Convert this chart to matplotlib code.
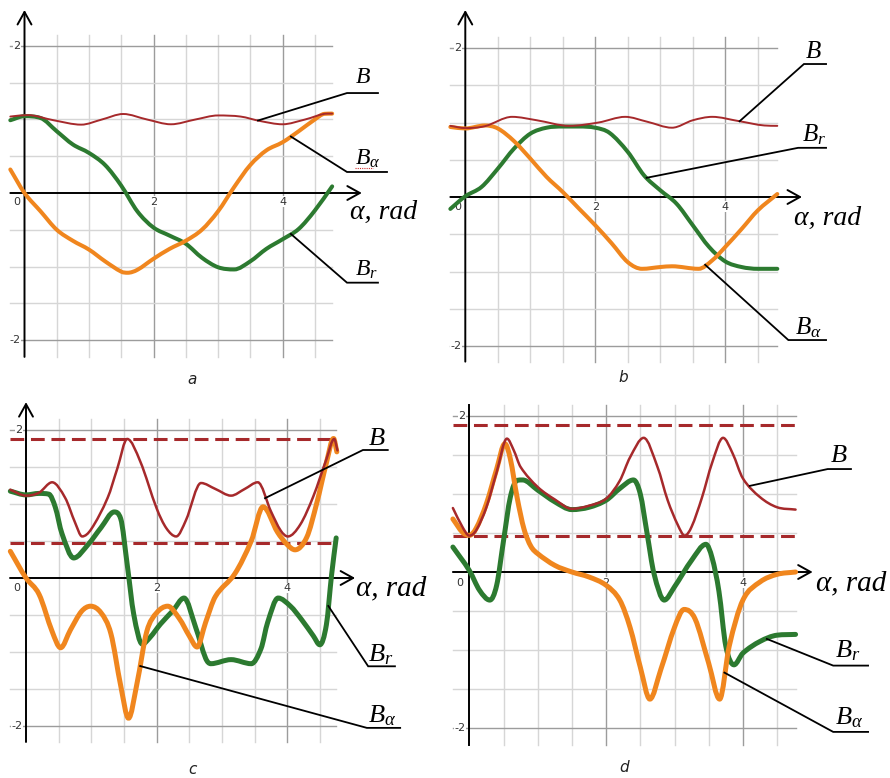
import numpy as np
import matplotlib
matplotlib.use("Agg")
import matplotlib.pyplot as plt
from matplotlib.path import Path
from matplotlib.patches import PathPatch

plt.rcParams["mathtext.fontset"] = "custom"
plt.rcParams["mathtext.it"] = "Liberation Serif:italic"
plt.rcParams["mathtext.rm"] = "Liberation Serif"

RED = "#a6292b"
GREEN = "#2c7a30"
ORANGE = "#f0861e"

# --- panel a ---
a_B_x = [-0.22, 0.05, 0.45, 0.88, 1.2, 1.53, 1.9, 2.27, 2.65, 3.0, 3.35, 3.65, 4.0, 4.35, 4.7, 4.77]
a_B = [1.04, 1.06, 0.99, 0.93, 1.0, 1.075, 1.0, 0.935, 1.0, 1.055, 1.04, 0.98, 0.935, 1.0, 1.08, 1.08]
a_Br_x = [-0.22, 0, 0.25, 0.5, 0.75, 1.0, 1.25, 1.5, 1.75, 2.0, 2.25, 2.5, 2.75, 3.0, 3.25, 3.5, 3.75, 4.0, 4.25, 4.5, 4.77]
a_Br = [0.99, 1.045, 1.02, 0.84, 0.66, 0.545, 0.38, 0.1, -0.25, -0.47, -0.58, -0.69, -0.88, -1.01, -1.04, -0.93, -0.76, -0.63, -0.49, -0.24, 0.09]
a_Ba_x = [-0.22, 0, 0.25, 0.5, 0.75, 1.0, 1.25, 1.5, 1.6, 1.75, 2.0, 2.25, 2.5, 2.75, 3.0, 3.25, 3.5, 3.75, 4.0, 4.25, 4.5, 4.65, 4.77]
a_Ba = [0.32, 0.0, -0.25, -0.5, -0.65, -0.77, -0.93, -1.07, -1.085, -1.045, -0.895, -0.76, -0.65, -0.5, -0.25, 0.08, 0.38, 0.58, 0.69, 0.84, 1.0, 1.077, 1.08]

# --- panel b ---
b_B_x = [-0.23, 0.0, 0.3, 0.72, 1.1, 1.6, 2.05, 2.46, 2.8, 3.18, 3.5, 3.8, 4.2, 4.6, 4.8]
b_B = [0.955, 0.925, 0.95, 1.076, 1.03, 0.955, 1.0, 1.076, 1.01, 0.93, 1.03, 1.076, 1.02, 0.96, 0.955]
b_Br_x = [-0.23, 0, 0.25, 0.5, 0.75, 1.0, 1.25, 1.5, 1.75, 2.0, 2.22, 2.5, 2.75, 3.0, 3.25, 3.5, 3.75, 4.0, 4.25, 4.5, 4.8]
b_Br = [-0.16, 0.01, 0.135, 0.38, 0.65, 0.85, 0.93, 0.946, 0.946, 0.93, 0.86, 0.605, 0.29, 0.09, -0.09, -0.38, -0.67, -0.865, -0.94, -0.964, -0.964]
b_Ba_x = [-0.23, 0, 0.3, 0.5, 0.75, 1.0, 1.25, 1.5, 1.75, 2.0, 2.25, 2.5, 2.72, 3.0, 3.18, 3.59, 3.8, 4.0, 4.25, 4.5, 4.8]
b_Ba = [0.94, 0.92, 0.96, 0.92, 0.75, 0.516, 0.27, 0.067, -0.157, -0.38, -0.62, -0.875, -0.964, -0.94, -0.93, -0.964, -0.85, -0.67, -0.43, -0.18, 0.04]

# --- panel c ---
c_B_x = [-0.24, 0, 0.2, 0.4, 0.6, 0.75, 0.86, 1.0, 1.25, 1.4, 1.55, 1.75, 2.0, 2.15, 2.3, 2.45, 2.68, 2.9, 3.14, 3.35, 3.55, 3.75, 3.9, 4.01, 4.2, 4.4, 4.6, 4.72, 4.77]
c_B = [1.19, 1.11, 1.15, 1.29, 1.08, 0.75, 0.56, 0.66, 1.08, 1.48, 1.874, 1.57, 0.94, 0.67, 0.56, 0.78, 1.28, 1.2, 1.11, 1.2, 1.29, 0.9, 0.64, 0.56, 0.72, 1.1, 1.6, 1.874, 1.72]
c_Br_x = [-0.24, 0, 0.2, 0.35, 0.45, 0.55, 0.73, 0.95, 1.15, 1.35, 1.45, 1.55, 1.65, 1.78, 1.9, 2.06, 2.25, 2.42, 2.6, 2.75, 2.83, 3.14, 3.45, 3.6, 3.7, 3.86, 4.05, 4.22, 4.4, 4.5, 4.6, 4.68, 4.75]
c_Br = [1.17, 1.12, 1.14, 1.13, 0.95, 0.6, 0.27, 0.45, 0.68, 0.89, 0.8, 0.18, -0.49, -0.89, -0.8, -0.62, -0.44, -0.27, -0.67, -1.08, -1.155, -1.1, -1.155, -0.95, -0.6, -0.27, -0.38, -0.56, -0.78, -0.9, -0.63, 0.045, 0.54]
c_Ba_x = [-0.24, 0, 0.2, 0.4, 0.53, 0.68, 0.85, 0.99, 1.15, 1.3, 1.45, 1.57, 1.7, 1.85, 2.0, 2.17, 2.35, 2.5, 2.62, 2.75, 2.9, 3.2, 3.45, 3.63, 3.85, 4.0, 4.12, 4.3, 4.45, 4.6, 4.71, 4.76]
c_Ba = [0.36, 0.0, -0.22, -0.72, -0.94, -0.7, -0.45, -0.38, -0.47, -0.75, -1.45, -1.89, -1.42, -0.72, -0.47, -0.38, -0.55, -0.78, -0.93, -0.6, -0.25, 0.06, 0.5, 0.96, 0.62, 0.45, 0.38, 0.55, 1.0, 1.55, 1.88, 1.7]
c_levels = [1.874, 0.476]

# --- panel d ---
d_B_x = [-0.24, -0.1, 0, 0.1, 0.25, 0.4, 0.55, 0.65, 0.75, 1.0, 1.25, 1.5, 1.75, 2.0, 2.2, 2.35, 2.55, 2.75, 2.9, 3.05, 3.15, 3.25, 3.4, 3.55, 3.71, 3.85, 4.0, 4.25, 4.5, 4.77]
d_B = [0.82, 0.577, 0.466, 0.534, 0.83, 1.28, 1.71, 1.56, 1.346, 1.09, 0.93, 0.81, 0.85, 0.94, 1.17, 1.47, 1.72, 1.35, 0.92, 0.6, 0.466, 0.58, 0.95, 1.4, 1.72, 1.52, 1.2, 0.96, 0.83, 0.8]
d_Br_x = [-0.24, 0, 0.15, 0.3, 0.4, 0.5, 0.6, 0.7, 0.78, 1.0, 1.25, 1.5, 1.75, 2.0, 2.2, 2.4, 2.5, 2.6, 2.7, 2.85, 3.0, 3.25, 3.46, 3.55, 3.65, 3.75, 3.87, 4.0, 4.25, 4.5, 4.77]
d_Br = [0.32, 0.02, -0.235, -0.36, -0.17, 0.4, 0.96, 1.175, 1.18, 1.05, 0.9, 0.8, 0.83, 0.92, 1.07, 1.18, 1.0, 0.49, -0.02, -0.36, -0.19, 0.15, 0.355, 0.18, -0.25, -0.95, -1.19, -1.04, -0.89, -0.81, -0.8]
d_Ba_x = [-0.24, -0.1, 0, 0.1, 0.25, 0.4, 0.52, 0.6, 0.7, 0.8, 0.9, 1.0, 1.25, 1.5, 1.75, 2.0, 2.2, 2.35, 2.5, 2.64, 2.8, 3.0, 3.14, 3.3, 3.5, 3.66, 3.8, 4.0, 4.25, 4.5, 4.77]
d_Ba = [0.68, 0.51, 0.47, 0.56, 0.876, 1.32, 1.645, 1.45, 0.95, 0.55, 0.33, 0.235, 0.085, 0.0, -0.064, -0.17, -0.36, -0.71, -1.22, -1.63, -1.25, -0.71, -0.48, -0.6, -1.17, -1.63, -0.95, -0.36, -0.128, -0.03, 0.0]
d_levels = [1.885, 0.466]

FIG_W, FIG_H = 890, 778


def smooth_path(x, y):
    # cubic Bezier segments through the points; centred slopes,
    # flat at local extremes and clamped so segments do not overshoot
    x = np.asarray(x, float)
    y = np.asarray(y, float)
    h = np.diff(x)
    d = np.diff(y) / h
    m = np.zeros_like(x)
    m[0], m[-1] = d[0], d[-1]
    for i in range(1, len(x) - 1):
        if d[i - 1] * d[i] <= 0:
            m[i] = 0.0
        else:
            s = (y[i + 1] - y[i - 1]) / (x[i + 1] - x[i - 1])
            lim = 3 * min(abs(d[i - 1]), abs(d[i]))
            m[i] = np.sign(s) * min(abs(s), lim)
    verts = [(x[0], y[0])]
    codes = [Path.MOVETO]
    for i in range(len(x) - 1):
        verts += [(x[i] + h[i] / 3, y[i] + m[i] * h[i] / 3),
                  (x[i + 1] - h[i] / 3, y[i + 1] - m[i + 1] * h[i] / 3),
                  (x[i + 1], y[i + 1])]
        codes += [Path.CURVE4] * 3
    return Path(verts, codes)


def curve(ax, x, y, color, lw, z):
    ax.add_patch(PathPatch(smooth_path(x, y), facecolor="none", edgecolor=color,
                           lw=lw, capstyle="round", joinstyle="round", zorder=z))


def make_panel(box, x0, y0, ux, uy):
    L, T, R, B = box
    ax = fig.add_axes([L / FIG_W, 1 - B / FIG_H, (R - L) / FIG_W, (B - T) / FIG_H])
    ax.set_xlim((L - x0) / ux, (R - x0) / ux)
    ax.set_ylim((y0 - B) / uy, (y0 - T) / uy)
    ax.set_axis_off()
    return ax


def grid(ax, xr, yr, ytop, xtip, label_y, label_x0, arrow_top=True):
    for gx in np.arange(0.5, xr[1], 0.5):
        col = "#9c9c9c" if gx % 2 == 0 else "#d6d6d6"
        ax.plot([gx, gx], yr, color=col, lw=1.0, zorder=0.5)
    for gy in np.arange(-2, 2.01, 0.5):
        if gy == 0:
            continue
        col = "#9c9c9c" if abs(gy) == 2 else "#d6d6d6"
        ax.plot(xr, [gy, gy], color=col, lw=1.0, zorder=0.5)
    # axes with arrows
    style = "->,head_length=0.45,head_width=0.25"
    ax.annotate("", xy=(xtip, 0), xytext=(xr[0], 0),
                arrowprops=dict(arrowstyle=style, lw=1.4, color="black",
                                mutation_scale=20, shrinkA=0, shrinkB=0), zorder=1.5)
    if arrow_top:
        ax.annotate("", xy=(0, ytop), xytext=(0, yr[0]),
                    arrowprops=dict(arrowstyle=style, lw=1.4, color="black",
                                    mutation_scale=20, shrinkA=0, shrinkB=0), zorder=1.5)
    else:
        ax.plot([0, 0], [yr[0], ytop], color="black", lw=1.4, zorder=1.5)
    tk = dict(fontsize=8, color="#333333", va="center", zorder=1,
              bbox=dict(facecolor="white", edgecolor="none", pad=0.3))
    ax.text(label_x0, label_y, "0", ha="center", **tk)
    for v in (2, 4):
        ax.text(v, label_y, str(v), ha="center", **tk)
    for v in (2, -2):
        ax.text(-0.06, v, str(v), ha="right", **tk)


def leader(ax, cx, cy, x_on, corner, x_end, text, text_xy, size):
    y_on = np.interp(x_on, cx, cy)
    ax.plot([x_on, corner[0], x_end], [y_on, corner[1], corner[1]],
            color="black", lw=1.3, solid_joinstyle="miter", zorder=6)
    ax.text(text_xy[0], text_xy[1], text, fontsize=size, ha="left", va="baseline", zorder=6)


def xlabel(ax, xy, size):
    ax.text(xy[0], xy[1], "α, rad", fontsize=size, family="Liberation Serif",
            style="italic", ha="left", va="baseline", zorder=6)


fig = plt.figure(figsize=(FIG_W / 100, FIG_H / 100), dpi=100)
fig.patch.set_facecolor("white")

# a
ax = make_panel((0, 0, 445, 389), 24.5, 193, 64.5, 73.5)
grid(ax, (-0.22, 4.77), (-2.23, 2.15), 2.49, 5.23, -0.12, -0.12)
curve(ax, a_Br_x, a_Br, GREEN, 2.9, 2)
curve(ax, a_Ba_x, a_Ba, ORANGE, 2.9, 3)
curve(ax, a_B_x, a_B, RED, 1.4, 4)
leader(ax, a_B_x, a_B, 3.62, (5.0, 1.36), 5.48, r"$B$", (5.12, 1.5), 17)
leader(ax, a_Ba_x, a_Ba, 4.13, (5.0, 0.286), 5.62, r"$B_{\alpha}$", (5.12, 0.38), 17)
leader(ax, a_Br_x, a_Br, 4.13, (5.0, -1.22), 5.48, r"$B_{r}$", (5.12, -1.13), 17)
ax.plot([5.12, 5.4], [0.345, 0.345], color="#d03030", lw=0.8, ls=(0, (1, 1)), zorder=6)
xlabel(ax, (5.05, -0.35), 20)

# b
ax = make_panel((445, 0, 890, 389), 465.3, 197, 65, 74.5)
grid(ax, (-0.23, 4.8), (-2.21, 2.15), 2.51, 5.18, -0.13, -0.11)
curve(ax, b_Br_x, b_Br, GREEN, 2.9, 2)
curve(ax, b_Ba_x, b_Ba, ORANGE, 2.9, 3)
curve(ax, b_B_x, b_B, RED, 1.4, 4)
leader(ax, b_B_x, b_B, 4.22, (5.21, 1.785), 5.55, r"$B$", (5.23, 1.86), 18)
leader(ax, b_Br_x, b_Br, 2.79, (5.12, 0.66), 5.55, r"$B_{r}$", (5.18, 0.75), 18)
leader(ax, b_Ba_x, b_Ba, 3.69, (4.97, -1.92), 5.55, r"$B_{\alpha}$", (5.07, -1.84), 18)
xlabel(ax, (5.06, -0.376), 20)

# c
ax = make_panel((0, 389, 445, 778), 26, 578, 65.3, 74.2)
grid(ax, (-0.245, 4.75), (-2.21, 2.14), 2.37, 5.04, -0.135, -0.14)
for lev in c_levels:
    ax.plot([-0.245, 4.75], [lev, lev], color=RED, lw=2.2, ls=(0, (4.5, 2.2)), zorder=1.8)
curve(ax, c_Br_x, c_Br, GREEN, 3.6, 2)
curve(ax, c_Ba_x, c_Ba, ORANGE, 3.6, 3)
curve(ax, c_B_x, c_B, RED, 1.8, 4)
leader(ax, c_B_x, c_B, 3.66, (5.16, 1.725), 5.54, r"$B$", (5.24, 1.79), 19)
leader(ax, c_Br_x, c_Br, 4.63, (5.24, -1.19), 5.65, r"$B_{r}$", (5.24, -1.12), 19)
leader(ax, c_Ba_x, c_Ba, 1.75, (5.22, -2.02), 5.73, r"$B_{\alpha}$", (5.24, -1.95), 19)
xlabel(ax, (5.05, -0.24), 21)

# d
ax = make_panel((445, 389, 890, 778), 469.3, 572, 68.4, 78)
grid(ax, (-0.24, 4.77), (-2.22, 2.14), 2.14, 5.02, -0.14, -0.136, arrow_top=False)
for lev in d_levels:
    ax.plot([-0.24, 4.77], [lev, lev], color=RED, lw=2.2, ls=(0, (4.5, 2.2)), zorder=1.8)
curve(ax, d_Br_x, d_Br, GREEN, 3.6, 2)
curve(ax, d_Ba_x, d_Ba, ORANGE, 3.6, 3)
curve(ax, d_B_x, d_B, RED, 1.8, 4)
leader(ax, d_B_x, d_B, 4.1, (5.24, 1.32), 5.58, r"$B$", (5.27, 1.41), 19)
leader(ax, d_Br_x, d_Br, 4.35, (5.32, -1.2), 5.83, r"$B_{r}$", (5.35, -1.1), 19)
leader(ax, d_Ba_x, d_Ba, 3.73, (5.32, -2.05), 5.83, r"$B_{\alpha}$", (5.35, -1.96), 19)
xlabel(ax, (5.07, -0.23), 21)

# panel captions
for txt, (px, py) in zip("abcd", [(192, 380), (623, 378), (192, 770), (624, 768)]):
    fig.text(px / FIG_W, 1 - py / FIG_H, txt, fontsize=11, style="italic",
             ha="center", va="center", color="#222222")

fig.savefig("out.png", dpi=100, facecolor="white")
